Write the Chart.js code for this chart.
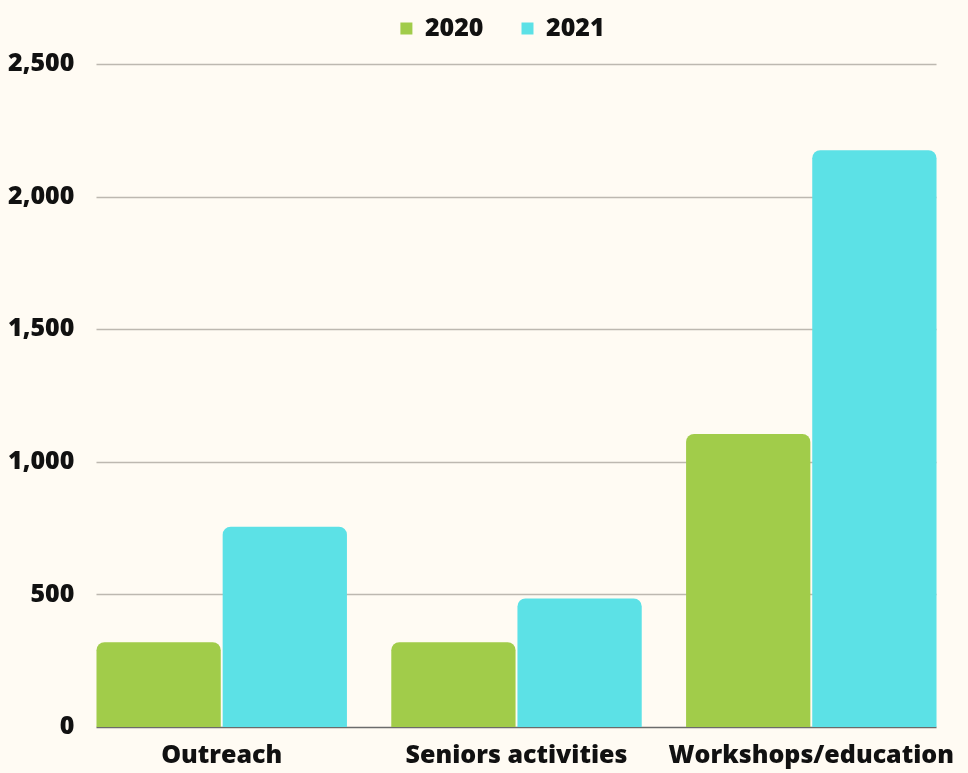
<!DOCTYPE html>
<html>
<head>
<meta charset="utf-8">
<script src="https://cdn.jsdelivr.net/npm/chart.js@4/dist/chart.umd.min.js"></script>
<style>
  html, body { margin: 0; padding: 0; background: #fffbf3; }
  #wrap { width: 968px; height: 773px; }
</style>
</head>
<body>
<div id="wrap"><canvas id="grafico"></canvas></div>
<script>
const categorias = ["Outreach", "Seniors activities", "Workshops/education"];
const anos = ["2020", "2021"];
const valores2020 = [320, 320, 1105];
const valores2021 = [755, 485, 2175];
const yMax = 2500;
const yPasso = 500;

const fonte = { family: "'Open Sans', 'Noto Sans', sans-serif", weight: "800", size: 25 };

// grid lines only over the width covered by the bars (like the original)
const gradeCurta = {
    id: "gradeCurta",
    beforeInit(chart) {
        // legend taller than its text, so the plot starts lower
        const leg = chart.legend;
        const fitOrig = leg.fit;
        leg.fit = function () {
            fitOrig.call(this);
            this.height = 86;
        };
    },
    afterLayout(chart) {
        chart.legend.left += 28;
    },
    beforeDatasetsDraw(chart) {
        const ctx = chart.ctx;
        const y = chart.scales.y;
        const m0 = chart.getDatasetMeta(0).data[0];
        const mUlt = chart.getDatasetMeta(chart.data.datasets.length - 1);
        const last = mUlt.data[mUlt.data.length - 1];
        const x0 = m0.x - m0.width / 2;
        const x1 = last.x + last.width / 2;
        ctx.save();
        y.ticks.forEach(t => {
            const py = Math.round(y.getPixelForValue(t.value)) + 0.5;
            ctx.beginPath();
            ctx.lineWidth = 1.5;
            ctx.strokeStyle = t.value === 0 ? "#6b6b6b" : "#bdb8b0";
            ctx.moveTo(x0, py);
            ctx.lineTo(x1, py);
            ctx.stroke();
        });
        ctx.restore();
    }
};

new Chart(document.getElementById("grafico"), {
    type: "bar",
    data: {
        labels: categorias,
        datasets: [
            {
                label: anos[0],
                data: valores2020,
                backgroundColor: "#a1cc4a",
                borderRadius: 8,
                categoryPercentage: 0.856,
                barPercentage: 0.985
            },
            {
                label: anos[1],
                data: valores2021,
                backgroundColor: "#5ce1e6",
                borderRadius: 8,
                categoryPercentage: 0.856,
                barPercentage: 0.985
            }
        ]
    },
    options: {
        responsive: true,
        maintainAspectRatio: false,
        animation: false,
        layout: { padding: { left: 8, right: -1, top: -22, bottom: -12 } },
        plugins: {
            legend: {
                labels: {
                    color: "#111",
                    font: fonte,
                    boxWidth: 12,
                    boxHeight: 12,
                    padding: 38
                }
            },
            tooltip: { enabled: false }
        },
        scales: {
            x: {
                ticks: {
                    color: "#111",
                    font: fonte,
                    padding: 14,
                    maxRotation: 0,
                    minRotation: 0,
                    autoSkip: false
                },
                grid: { display: false, drawTicks: false },
                border: { display: false }
            },
            y: {
                min: 0,
                max: yMax,
                ticks: {
                    stepSize: yPasso,
                    color: "#111",
                    font: fonte,
                    padding: 0,
                    callback: v => v.toLocaleString("en-US")
                },
                grid: { display: false, drawTicks: false },
                border: { display: false }
            }
        }
    },
    plugins: [gradeCurta]
});
</script>
</body>
</html>
